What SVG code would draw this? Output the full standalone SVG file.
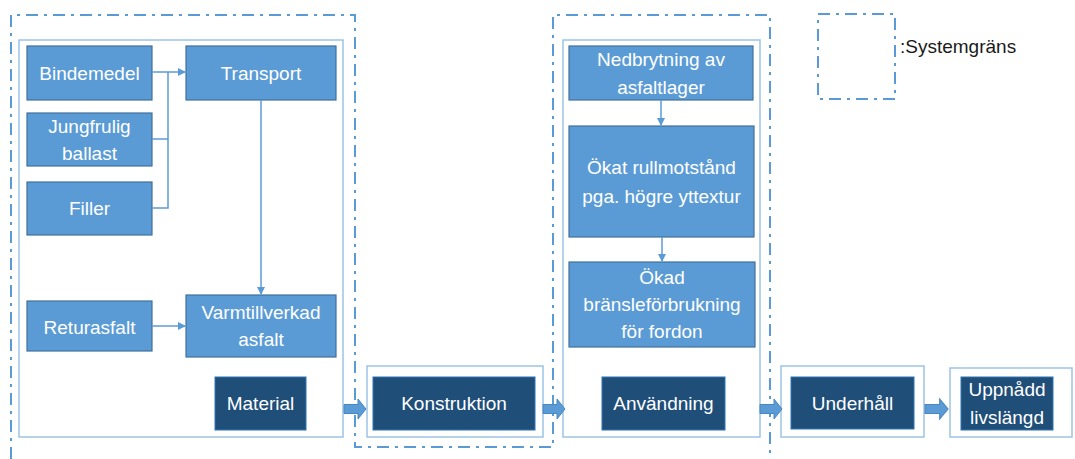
<svg xmlns="http://www.w3.org/2000/svg" width="1075" height="459" viewBox="0 0 1075 459">
<style>
.bg{fill:#ffffff}
.outer{fill:#ffffff;stroke:#9DC3E6;stroke-width:1.5}
.mid{fill:#5B9BD5;stroke:#41719C;stroke-width:1.2}
.dark{fill:#1F4E79;stroke:#2E75B6;stroke-width:1}
.t{font-family:"Liberation Sans",Arial,sans-serif;font-size:19px;fill:#ffffff;text-anchor:middle}
.lg{font-family:"Liberation Sans",Arial,sans-serif;font-size:19px;fill:#1a1a1a}
.sys{fill:none;stroke:#5B9BD5;stroke-width:2;stroke-dasharray:12,6,3,6}
.con{fill:none;stroke:#5B9BD5;stroke-width:1.5}
.blk{fill:#5B9BD5;stroke:#4A86C0;stroke-width:1}
</style>
<defs>
<marker id="ah" markerWidth="8" markerHeight="8" refX="7" refY="4" orient="auto" markerUnits="userSpaceOnUse">
<path d="M0,0 L8,4 L0,8 Z" fill="#5B9BD5"/>
</marker>
<path id="blk" d="M0,-4.5 L14,-4.5 L14,-10 L22,0 L14,10 L14,4.5 L0,4.5 Z"/>
</defs>
<rect class="bg" x="0" y="0" width="1075" height="459"/>

<g id="systemgrans">
<path class="sys" d="M11,459 L11,15 L355,15 L355,447 L553,447 L553,15 L770,15 L770,459"/>
</g>

<g id="legend">
<rect class="sys" x="818" y="14" width="77" height="85"/>
<text class="lg" x="900" y="53">:Systemgräns</text>
</g>

<g id="material-group">
<rect class="outer" x="19" y="40" width="324" height="397"/>
</g>
<g id="konstruktion-group">
<rect class="outer" x="367" y="366" width="176" height="71"/>
</g>
<g id="anvandning-group">
<rect class="outer" x="563" y="40" width="197" height="397"/>
</g>
<g id="underhall-group">
<rect class="outer" x="781" y="366" width="143" height="71"/>
</g>
<g id="uppnadd-group">
<rect class="outer" x="950" y="368" width="122" height="69"/>
</g>

<g id="bindemedel">
<rect class="mid" x="27" y="46" width="125" height="54"/>
<text class="t" x="89.5" y="80">Bindemedel</text>
</g>
<g id="jungfrulig">
<rect class="mid" x="27" y="113" width="125" height="53"/>
<text class="t" x="89.5" y="133">Jungfrulig</text>
<text class="t" x="89.5" y="160">ballast</text>
</g>
<g id="filler">
<rect class="mid" x="27" y="182" width="125" height="53"/>
<text class="t" x="89.5" y="215">Filler</text>
</g>
<g id="transport">
<rect class="mid" x="186" y="46" width="150" height="54"/>
<text class="t" x="261" y="80">Transport</text>
</g>
<g id="returasfalt">
<rect class="mid" x="27" y="301" width="125" height="50"/>
<text class="t" x="89.5" y="334">Returasfalt</text>
</g>
<g id="varmtillverkad">
<rect class="mid" x="186" y="295" width="150" height="62"/>
<text class="t" x="261" y="319">Varmtillverkad</text>
<text class="t" x="261" y="346">asfalt</text>
</g>
<g id="material">
<rect class="dark" x="215" y="377" width="91" height="53"/>
<text class="t" x="260.5" y="410">Material</text>
</g>
<g id="konstruktion">
<rect class="dark" x="373" y="377" width="162" height="53"/>
<text class="t" x="454" y="410">Konstruktion</text>
</g>
<g id="nedbrytning">
<rect class="mid" x="569" y="46" width="184" height="54"/>
<text class="t" x="661" y="66">Nedbrytning av</text>
<text class="t" x="661" y="94">asfaltlager</text>
</g>
<g id="okat">
<rect class="mid" x="569" y="126" width="185" height="111"/>
<text class="t" x="661.5" y="174">Ökat rullmotstånd</text>
<text class="t" x="661.5" y="203">pga. högre yttextur</text>
</g>
<g id="okad">
<rect class="mid" x="569" y="262" width="186" height="85"/>
<text class="t" x="662" y="284">Ökad</text>
<text class="t" x="662" y="311">bränsleförbrukning</text>
<text class="t" x="662" y="338">för fordon</text>
</g>
<g id="anvandning">
<rect class="dark" x="602" y="377" width="123" height="53"/>
<text class="t" x="663.5" y="410">Användning</text>
</g>
<g id="underhall">
<rect class="dark" x="791" y="377" width="123" height="52"/>
<text class="t" x="852.5" y="410">Underhåll</text>
</g>
<g id="uppnadd">
<rect class="dark" x="961" y="377" width="92" height="53"/>
<text class="t" x="1007" y="396">Uppnådd</text>
<text class="t" x="1007" y="424">livslängd</text>
</g>

<g id="connectors">
<path class="con" d="M152,72 L168,72"/>
<path class="con" d="M152,139 L168,139"/>
<path class="con" d="M152,208 L168,208 L168,72"/>
<path class="con" d="M168,72 L185,72" marker-end="url(#ah)"/>
<path class="con" d="M261,100 L261,294" marker-end="url(#ah)"/>
<path class="con" d="M152,326 L185,326" marker-end="url(#ah)"/>
<path class="con" d="M661,100 L661,125" marker-end="url(#ah)"/>
<path class="con" d="M662,237 L662,261" marker-end="url(#ah)"/>
<use href="#blk" class="blk" transform="translate(344,409)"/>
<use href="#blk" class="blk" transform="translate(543,409)"/>
<use href="#blk" class="blk" transform="translate(760,409)"/>
<use href="#blk" class="blk" transform="translate(925,409) scale(1.05,1)"/>
</g>
</svg>
